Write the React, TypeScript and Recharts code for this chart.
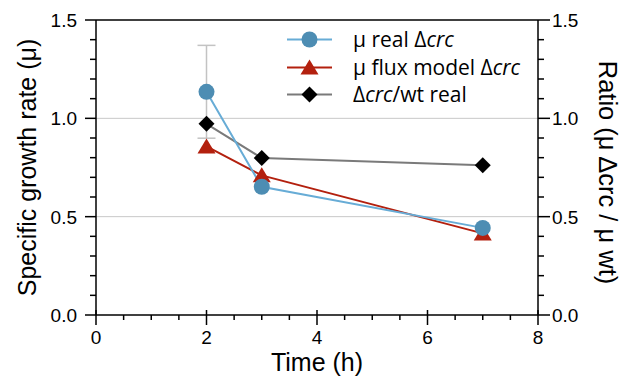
import React from 'react';
import { LineChart, Line, XAxis, YAxis, ReferenceLine, ErrorBar, Legend } from 'recharts';

// ---- data ----
const timeH = [2, 3, 7];
const muReal = [1.135, 0.652, 0.443];
const muRealErr: (number | null)[] = [0.236, null, null];
const muFlux = [0.857, 0.71, 0.415];
const ratioReal = [0.972, 0.798, 0.762];

const xTicks = [0, 0.5, 1, 1.5, 2, 2.5, 3, 3.5, 4, 4.5, 5, 5.5, 6, 6.5, 7, 7.5, 8];
const xMajorLabels = ['0', '2', '4', '6', '8'];
const yTicks = [0, 0.1, 0.2, 0.3, 0.4, 0.5, 0.6, 0.7, 0.8, 0.9, 1.0, 1.1, 1.2, 1.3, 1.4, 1.5];
const yMajorLabels = ['0.0', '0.5', '1.0', '1.5'];
const gridValues = [0.5, 1.0];

const legendLabels = [
  { pre: 'μ real Δ', it: 'crc', post: '' },
  { pre: 'μ flux model Δ', it: 'crc', post: '' },
  { pre: 'Δ', it: 'crc', post: '/wt real' },
];

const xTitle = 'Time (h)';
const leftTitle = 'Specific growth rate (μ)';
const rightTitle = 'Ratio (μ Δcrc / μ wt)';

const data = timeH.map((t, i) => ({
  t,
  muReal: muReal[i],
  err: muRealErr[i],
  flux: muFlux[i],
  ratio: ratioReal[i],
}));

// ---- styles ----
const BLUE_LINE = '#67acd6';
const BLUE_DOT = '#4d8db3';
const RED = '#b3200e';
const GRAY = '#7a7a7a';
const AX_FONT = 'Liberation Sans, Arial, sans-serif';
const LEG_FONT = 'Open Sans, sans-serif';

const isMajorY = (v: number) => Math.abs(v * 2 - Math.round(v * 2)) < 1e-6;
const isMajorX = (v: number) => Math.abs(v / 2 - Math.round(v / 2)) < 1e-6;

const fmtY = (v: number) => yMajorLabels[Math.round(v * 2)];
const fmtX = (v: number) => xMajorLabels[Math.round(v / 2)];

const LeftTick = (props: any) => {
  const { x, y, payload } = props;
  const v = payload.value as number;
  const major = isMajorY(v);
  return (
    <g>
      <line x1={x - (major ? 11 : 6)} x2={x} y1={y} y2={y} stroke="#000" strokeWidth={1.5} />
      {major && (
        <text x={x - 19} y={y} dy="0.36em" textAnchor="end" fontFamily={AX_FONT} fontSize={19} fill="#000">
          {fmtY(v)}
        </text>
      )}
    </g>
  );
};

const RightTick = (props: any) => {
  const { x, y, payload } = props;
  const v = payload.value as number;
  const major = isMajorY(v);
  return (
    <g>
      <line x1={x} x2={x + (major ? 12 : 6)} y1={y} y2={y} stroke="#000" strokeWidth={1.5} />
      {major && (
        <text x={x + 14} y={y} dy="0.36em" textAnchor="start" fontFamily={AX_FONT} fontSize={19} fill="#000">
          {fmtY(v)}
        </text>
      )}
    </g>
  );
};

const BottomTick = (props: any) => {
  const { x, y, payload } = props;
  const v = payload.value as number;
  const major = isMajorX(v);
  return (
    <g>
      <line x1={x} x2={x} y1={major ? y - 5 : y} y2={y + (major ? 10 : 5)} stroke="#000" strokeWidth={1.5} />
      {major && (
        <text x={x} y={y + 22} dy="0.36em" textAnchor="middle" fontFamily={AX_FONT} fontSize={19} fill="#000">
          {fmtX(v)}
        </text>
      )}
    </g>
  );
};

const LeftTitle = (props: any) => {
  const vb = props.viewBox;
  const cx = vb.x - 9;
  const cy = vb.y + vb.height / 2;
  return (
    <text x={cx} y={cy} transform={`rotate(-90 ${cx} ${cy})`} textAnchor="middle" dy="0.35em"
      fontFamily={AX_FONT} fontSize={25} fill="#000">{leftTitle}</text>
  );
};

const RightTitle = (props: any) => {
  const vb = props.viewBox;
  const cx = vb.x + 70;
  const cy = vb.y + vb.height / 2 + 5;
  return (
    <text x={cx} y={cy} transform={`rotate(90 ${cx} ${cy})`} textAnchor="middle" dy="0.35em"
      fontFamily={AX_FONT} fontSize={25.5} fill="#000">{rightTitle}</text>
  );
};

const BottomTitle = (props: any) => {
  const vb = props.viewBox;
  const cx = vb.x + vb.width / 2;
  const cy = vb.y + 47;
  return (
    <text x={cx} y={cy} textAnchor="middle" dy="0.35em" fontFamily={AX_FONT} fontSize={25} fill="#000">{xTitle}</text>
  );
};

const CircleDot = (props: any) => {
  const { cx, cy, index } = props;
  if (cx == null || cy == null) return <g key={`c${index}`} />;
  return <circle key={`c${index}`} cx={cx} cy={cy} r={8} fill={BLUE_DOT} stroke="none" />;
};

const triPath = (cx: number, cy: number) => `M${cx},${cy - 8} L${cx + 9},${cy + 7} L${cx - 9},${cy + 7} Z`;
const TriDot = (props: any) => {
  const { cx, cy, index } = props;
  if (cx == null || cy == null) return <g key={`t${index}`} />;
  return <path key={`t${index}`} d={triPath(cx, cy)} fill={RED} stroke="none" />;
};

const diaPath = (cx: number, cy: number) => `M${cx},${cy - 8} L${cx + 8},${cy} L${cx},${cy + 8} L${cx - 8},${cy} Z`;
const DiaDot = (props: any) => {
  const { cx, cy, index } = props;
  if (cx == null || cy == null) return <g key={`d${index}`} />;
  return <path key={`d${index}`} d={diaPath(cx, cy)} fill="#000" stroke="none" />;
};

const legendStyles = [
  { line: BLUE_LINE, marker: (cx: number, cy: number) => <circle cx={cx} cy={cy} r={8} fill={BLUE_DOT} /> },
  { line: RED, marker: (cx: number, cy: number) => <path d={triPath(cx, cy)} fill={RED} /> },
  { line: GRAY, marker: (cx: number, cy: number) => <path d={diaPath(cx, cy)} fill="#000" /> },
];

const renderLegend = () => (
  <div style={{ fontFamily: LEG_FONT, fontSize: 21, color: '#000' }}>
    {legendLabels.map((l, i) => (
      <div key={i} style={{ display: 'flex', alignItems: 'center', height: 27.5 }}>
        <svg width={73} height={27} style={{ display: 'block', flex: 'none' }}>
          <line x1={7} x2={52} y1={13.5} y2={13.5} stroke={legendStyles[i].line} strokeWidth={2} />
          {legendStyles[i].marker(29.5, 13.5)}
        </svg>
        <span style={{ whiteSpace: 'nowrap', lineHeight: '27px' }}>
          {l.pre}
          <i>{l.it}</i>
          {l.post}
        </span>
      </div>
    ))}
  </div>
);

export default function App() {
  return (
    <div style={{ position: 'absolute', left: 0, top: 0, width: 628, height: 381, background: '#fff' }}>
      <LineChart
        width={628}
        height={381}
        data={data}
        margin={{ top: 20, right: 30, bottom: 26, left: 36 }}
      >
        <XAxis
          dataKey="t"
          type="number"
          domain={[0, 8]}
          ticks={xTicks}
          interval={0}
          height={40}
          tickLine={false}
          tickSize={0}
          tickMargin={0}
          tick={<BottomTick />}
          axisLine={{ stroke: '#000', strokeWidth: 1.5 }}
          label={<BottomTitle />}
        />
        <YAxis
          yAxisId="left"
          type="number"
          domain={[0, 1.5]}
          ticks={yTicks}
          interval={0}
          width={60}
          tickLine={false}
          tickSize={0}
          tickMargin={0}
          tick={<LeftTick />}
          axisLine={{ stroke: '#000', strokeWidth: 1.5 }}
          label={<LeftTitle />}
        />
        <YAxis
          yAxisId="right"
          orientation="right"
          type="number"
          domain={[0, 1.5]}
          ticks={yTicks}
          interval={0}
          width={60}
          tickLine={false}
          tickSize={0}
          tickMargin={0}
          tick={<RightTick />}
          axisLine={{ stroke: '#000', strokeWidth: 1.5 }}
          label={<RightTitle />}
        />
        {gridValues.map((g) => (
          <ReferenceLine key={g} yAxisId="left" y={g} stroke="#c8c8c8" strokeWidth={1} />
        ))}
        <ReferenceLine yAxisId="left" y={1.5} stroke="#000" strokeWidth={1.5} />
        <Line
          yAxisId="left"
          dataKey="flux"
          stroke={RED}
          strokeWidth={2}
          dot={<TriDot />}
          activeDot={false}
          isAnimationActive={false}
        />
        <Line
          yAxisId="right"
          dataKey="ratio"
          stroke={GRAY}
          strokeWidth={2}
          dot={<DiaDot />}
          activeDot={false}
          isAnimationActive={false}
        />
        <Line
          yAxisId="left"
          dataKey="muReal"
          stroke={BLUE_LINE}
          strokeWidth={2}
          dot={<CircleDot />}
          activeDot={false}
          isAnimationActive={false}
        >
          <ErrorBar dataKey="err" width={9} stroke="#c3c3c3" strokeWidth={1.5} direction="y" />
        </Line>
        <Legend
          layout="vertical"
          verticalAlign="middle"
          align="center"
          content={renderLegend}
          wrapperStyle={{ position: 'absolute', left: 280, top: 26, width: 270 }}
        />
      </LineChart>
    </div>
  );
}
